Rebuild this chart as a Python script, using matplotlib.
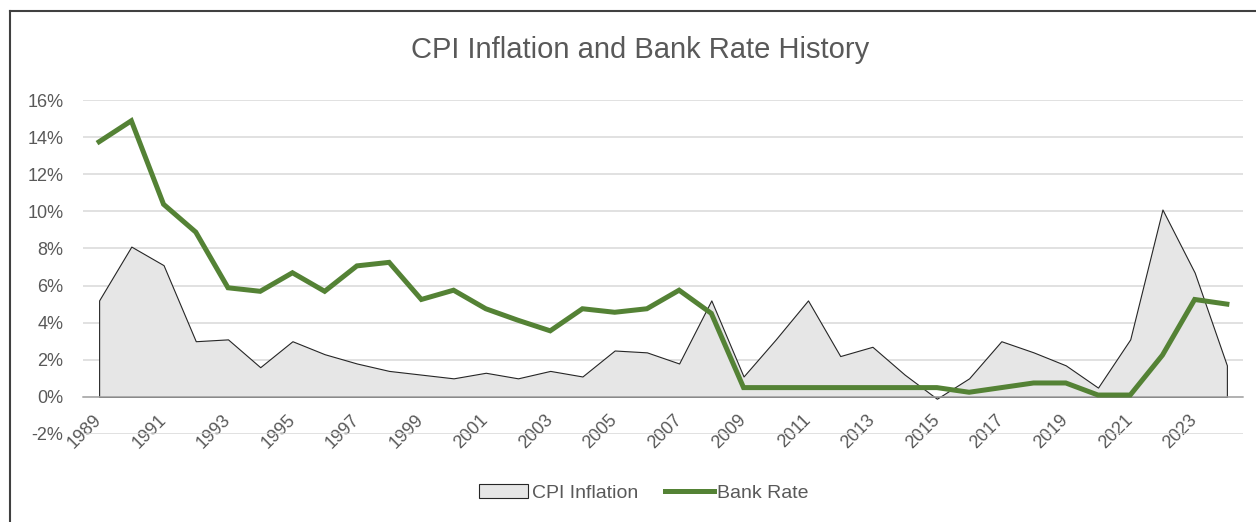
import numpy as np
import matplotlib.pyplot as plt
from matplotlib.lines import Line2D
from matplotlib.patches import Patch
from matplotlib.ticker import FuncFormatter

years = list(range(1989, 2025))
cpi = [5.2, 8.1, 7.1, 3.0, 3.1, 1.6, 3.0, 2.3, 1.8, 1.4, 1.2, 1.0, 1.3, 1.0, 1.4, 1.1,
       2.5, 2.4, 1.8, 5.2, 1.1, 3.1, 5.2, 2.2, 2.7, 1.2, -0.1, 1.0, 3.0, 2.4, 1.7, 0.5,
       3.1, 10.1, 6.7, 1.7]
bank_rate = [13.75, 14.88, 10.38, 8.88, 5.88, 5.69, 6.69, 5.69, 7.06, 7.25, 5.25, 5.75,
             4.75, 4.13, 3.56, 4.75, 4.56, 4.75, 5.75, 4.5, 0.5, 0.5, 0.5, 0.5, 0.5, 0.5,
             0.5, 0.25, 0.5, 0.75, 0.75, 0.1, 0.1, 2.25, 5.25, 5.0]

grey_txt = '#595959'
green = '#548235'
plt.rcParams['font.family'] = ['Liberation Sans', 'DejaVu Sans']

fig = plt.figure(figsize=(12.56, 5.22), dpi=100)
ax = fig.add_axes([83/1256, 88/522, 1160/1256, 334/522])

ax.fill_between(years, cpi, 0, facecolor='#e6e6e6', edgecolor='#262626', linewidth=0.8, zorder=2)
ax.plot(years, bank_rate, color=green, linewidth=3.6, solid_joinstyle='miter', zorder=3)

ax.set_xlim(1988.5, 2024.5)
ax.set_ylim(-2, 16)
ax.set_yticks(np.arange(-2, 17, 2))
ax.yaxis.set_major_formatter(FuncFormatter(lambda v, p: f'{v:.0f}%'))
ax.set_xticks(years[::2])
ax.set_xticklabels([str(y) for y in years[::2]])
ax.grid(axis='y', color='#d9d9d9', linewidth=1.1, zorder=0)
ax.set_axisbelow(True)
for s in ['top', 'right', 'left']:
    ax.spines[s].set_visible(False)
ax.spines['bottom'].set_position(('data', 0))
ax.spines['bottom'].set_color('#a6a6a6')
ax.spines['bottom'].set_linewidth(1.1)
ax.tick_params(axis='both', length=0, labelsize=13, labelcolor=grey_txt)
ax.tick_params(axis='x', pad=15)
ax.tick_params(axis='y', pad=14)
plt.setp(ax.get_xticklabels(), rotation=45, ha='right', va='center', rotation_mode='anchor')

fig.text(640/1256, 1 - 50/522, 'CPI Inflation and Bank Rate History', ha='center', va='center',
         fontsize=21, color=grey_txt)

handles = [Patch(facecolor='#e6e6e6', edgecolor='#262626', linewidth=0.8),
           Line2D([0], [0], color=green, linewidth=3.6)]
fig.legend(handles, ['CPI Inflation', 'Bank Rate'], loc='center', bbox_to_anchor=(644/1256, 1 - 493/522),
           ncol=2, frameon=False, prop={'size': 14}, labelcolor=grey_txt,
           handlelength=2.5, handletextpad=0.2, columnspacing=1.4)

# outer chart border (left and top only visible)
fig.add_artist(Line2D([9.5/1256, 9.5/1256], [0, 1 - 11/522], color='#404040', linewidth=1.5))
fig.add_artist(Line2D([9.5/1256, 1], [1 - 11/522, 1 - 11/522], color='#404040', linewidth=1.5))

fig.savefig('out.png', dpi=100)
